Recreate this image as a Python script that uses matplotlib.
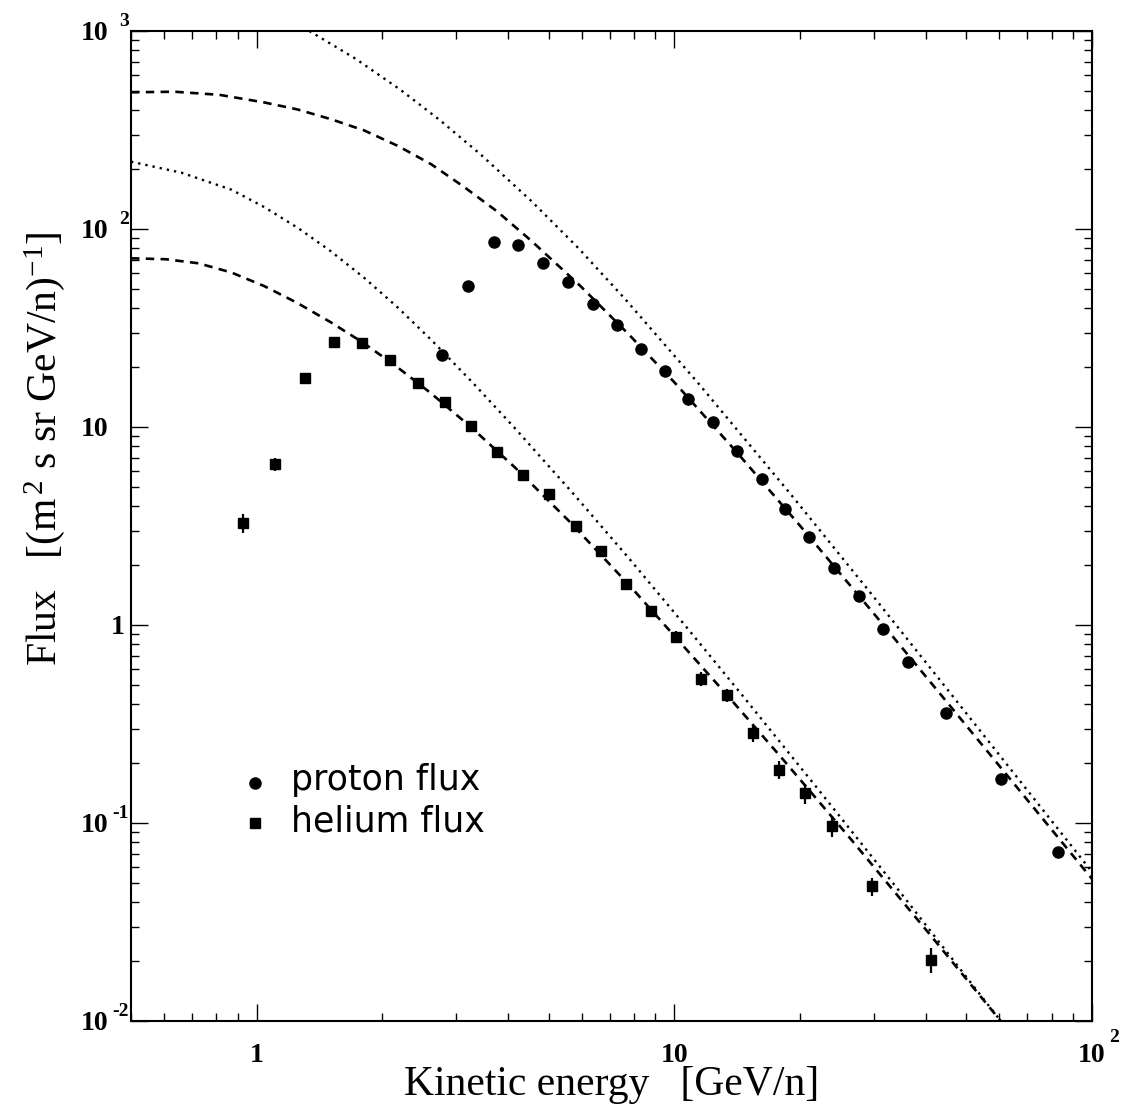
import numpy as np
import matplotlib
matplotlib.use("Agg")
import matplotlib.pyplot as plt
from matplotlib.transforms import offset_copy

plt.rcParams["font.family"] = ["Liberation Serif", "DejaVu Serif"]
plt.rcParams["mathtext.fontset"] = "custom"
plt.rcParams["mathtext.rm"] = "Liberation Serif"
plt.rcParams["mathtext.it"] = "Liberation Serif:italic"
plt.rcParams["mathtext.bf"] = "Liberation Serif:bold"

# ── measured points ───────────────────────────────────────────
proton_e = [2.78, 3.20, 3.69, 4.23, 4.86, 5.56, 6.37, 7.28, 8.31, 9.52,
            10.8, 12.4, 14.1, 16.2, 18.4, 21.0, 24.1, 27.6, 31.6, 36.3,
            44.8, 60.5, 82.9]
proton_flux = [23.0, 51.3, 86.3, 83.0, 67.1, 54.2, 41.7, 32.6, 24.8, 19.2,
               13.8, 10.6, 7.59, 5.48, 3.87, 2.77, 1.94, 1.40, 0.958, 0.649,
               0.359, 0.166, 0.0714]

helium_e = [0.928, 1.108, 1.307, 1.528, 1.787, 2.08, 2.43, 2.82, 3.26, 3.77,
            4.35, 5.02, 5.80, 6.66, 7.65, 8.78, 10.1, 11.6, 13.4, 15.4,
            17.8, 20.5, 23.8, 29.7, 41.1]
helium_flux = [3.29, 6.48, 17.6, 26.9, 26.7, 21.7, 16.7, 13.4, 10.1, 7.45,
               5.72, 4.57, 3.16, 2.36, 1.62, 1.18, 0.870, 0.534, 0.442, 0.285,
               0.186, 0.141, 0.0969, 0.0478, 0.0204]
helium_relerr = [0.11, 0.07, 0.04, 0.04, 0.04, 0.04, 0.04, 0.04, 0.04, 0.04,
                 0.04, 0.04, 0.04, 0.04, 0.04, 0.04, 0.07, 0.078, 0.08, 0.097,
                 0.106, 0.117, 0.123, 0.106, 0.143]

# ── model curves ──────────────────────────────────────────────
# proton, interstellar (dotted)
p_lis_e = [1.3366, 1.7224, 2.2069, 2.7508, 3.4469, 4.541, 5.8846, 7.6218,
           11.521, 18.812, 29.39, 46.43, 67.88, 100]
p_lis_f = [1000, 725.5, 505.4, 353.4, 236.7, 138.7, 80.26, 44.30,
           16.24, 4.691, 1.466, 0.4363, 0.1589, 0.05668]

# proton, modulated (dashed)
p_mod_e = [0.5, 0.6354, 0.8141, 1.0433, 1.2515, 1.5091, 1.81, 2.1827, 2.6181,
           3.1403, 3.7649, 4.541, 5.9497, 7.7616, 10.0, 14.125, 19.98, 29.88,
           44.92, 67.14, 100]
p_mod_f = [490.2, 493.6, 476.0, 435.5, 401.8, 358.1, 314.4, 262.2, 212.2,
           162.8, 122.6, 87.3, 51.67, 29.49, 16.82, 7.434, 3.177, 1.157,
           0.4086, 0.1456, 0.05221]

# helium, interstellar (dotted)
he_lis_e = [0.5, 0.6604, 0.87, 1.0433, 1.2563, 1.5008, 1.813, 2.1707, 2.6181,
            3.2994, 4.1425, 5.6928, 7.8347, 10.724, 14.624, 22.32, 34.67, 60.72]
he_lis_f = [218.8, 192.4, 157.9, 128.9, 101.1, 77.52, 56.43, 40.33, 27.54,
            16.64, 9.907, 4.675, 2.137, 0.968, 0.4353, 0.1441, 0.04494, 0.009884]

# helium, modulated (dashed)
he_mod_e = [0.5, 0.6047, 0.7255, 0.87, 1.0433, 1.2515, 1.5008, 1.7902, 2.1469,
            2.6037, 3.2452, 4.1585, 5.6305, 7.8347, 10.903, 13.368, 17.902,
            26.32, 40.91, 60.72]
he_mod_f = [71.13, 70.39, 67.11, 60.29, 51.43, 42.29, 33.90, 26.81, 20.42,
            14.90, 10.06, 6.23, 3.305, 1.572, 0.7172, 0.4431, 0.2181, 0.084,
            0.02734, 0.009884]

# tick labels: (value, base, exponent)
ytick_labels = [(1000, "10", "3"), (100, "10", "2"), (10, "10", ""),
                (1, "1", ""), (0.1, "10", "-1"), (0.01, "10", "-2")]
xtick_labels = [(1, "1", ""), (10, "10", ""), (100, "10", "2")]

# ── figure ────────────────────────────────────────────────────
fig = plt.figure(figsize=(11.25, 11.09), dpi=100)
ax = fig.add_axes([131 / 1125, 1 - 1021 / 1109, 961 / 1125, 990 / 1109])
ax.set_xscale("log")
ax.set_yscale("log")
ax.set_xlim(0.5, 100)
ax.set_ylim(0.01, 1000)

dotted = dict(color="black", lw=1.7, ls=(0, (1, 2.1)))
dashed = dict(color="black", lw=1.9, ls=(0, (3.2, 2.4)))
ax.plot(p_lis_e, p_lis_f, **dotted)
ax.plot(he_lis_e, he_lis_f, **dotted)
ax.plot(p_mod_e, p_mod_f, **dashed)
ax.plot(he_mod_e, he_mod_f, **dashed)

ax.plot(proton_e, proton_flux, "o", color="black", ms=8, mec="black")
he_err = np.array(helium_flux) * np.array(helium_relerr)
ax.errorbar(helium_e, helium_flux, yerr=he_err, fmt="s", color="black",
            ms=7.5, elinewidth=1.6, capsize=0)

for s in ax.spines.values():
    s.set_linewidth(1.5)
ax.tick_params(which="both", direction="in", top=True, right=True,
               labelleft=False, labelbottom=False, width=1.0)
ax.tick_params(which="major", length=12)
ax.tick_params(which="minor", length=6)

# ROOT-style tick labels
ytr = ax.get_yaxis_transform()
for val, base, ex in ytick_labels:
    xoff = -23 if base == "10" else -6
    ax.text(0, val, base, transform=offset_copy(ytr, fig, x=xoff, y=-2, units="dots"),
            ha="right", va="center", fontsize=20, fontweight="bold")
    if ex:
        ax.text(0, val, ex, transform=offset_copy(ytr, fig, x=-2, y=10, units="dots"),
                ha="right", va="center", fontsize=14, fontweight="bold")

xtr = ax.get_xaxis_transform()
for val, base, ex in xtick_labels:
    ax.text(val, 0, base, transform=offset_copy(xtr, fig, x=0, y=-34, units="dots"),
            ha="center", va="center", fontsize=20, fontweight="bold")
    if ex:
        ax.text(val, 0, ex, transform=offset_copy(xtr, fig, x=17, y=-17, units="dots"),
                ha="left", va="center", fontsize=14, fontweight="bold")

# legend
atr = ax.transAxes
ax.plot([0.129], [0.240], "o", color="black", ms=8, transform=atr)
ax.plot([0.129], [0.1997], "s", color="black", ms=7.5, transform=atr)
ax.text(0.166, 0.243, "proton flux", transform=atr, ha="left", va="center",
        fontsize=25, family=["DejaVu Sans"])
ax.text(0.166, 0.202, "helium flux", transform=atr, ha="left", va="center",
        fontsize=25, family=["DejaVu Sans"])

fig.text(612 / 1125, 1 - 1085 / 1109, "Kinetic energy   [GeV/n]",
         ha="center", va="center", fontsize=30)
fig.text(45 / 1125, 1 - 449 / 1109, r"Flux   [(m$^{\,2}$ s sr GeV/n)$^{-1}$]",
         ha="center", va="center", rotation=90, fontsize=30)

fig.savefig("out.png", dpi=100)
